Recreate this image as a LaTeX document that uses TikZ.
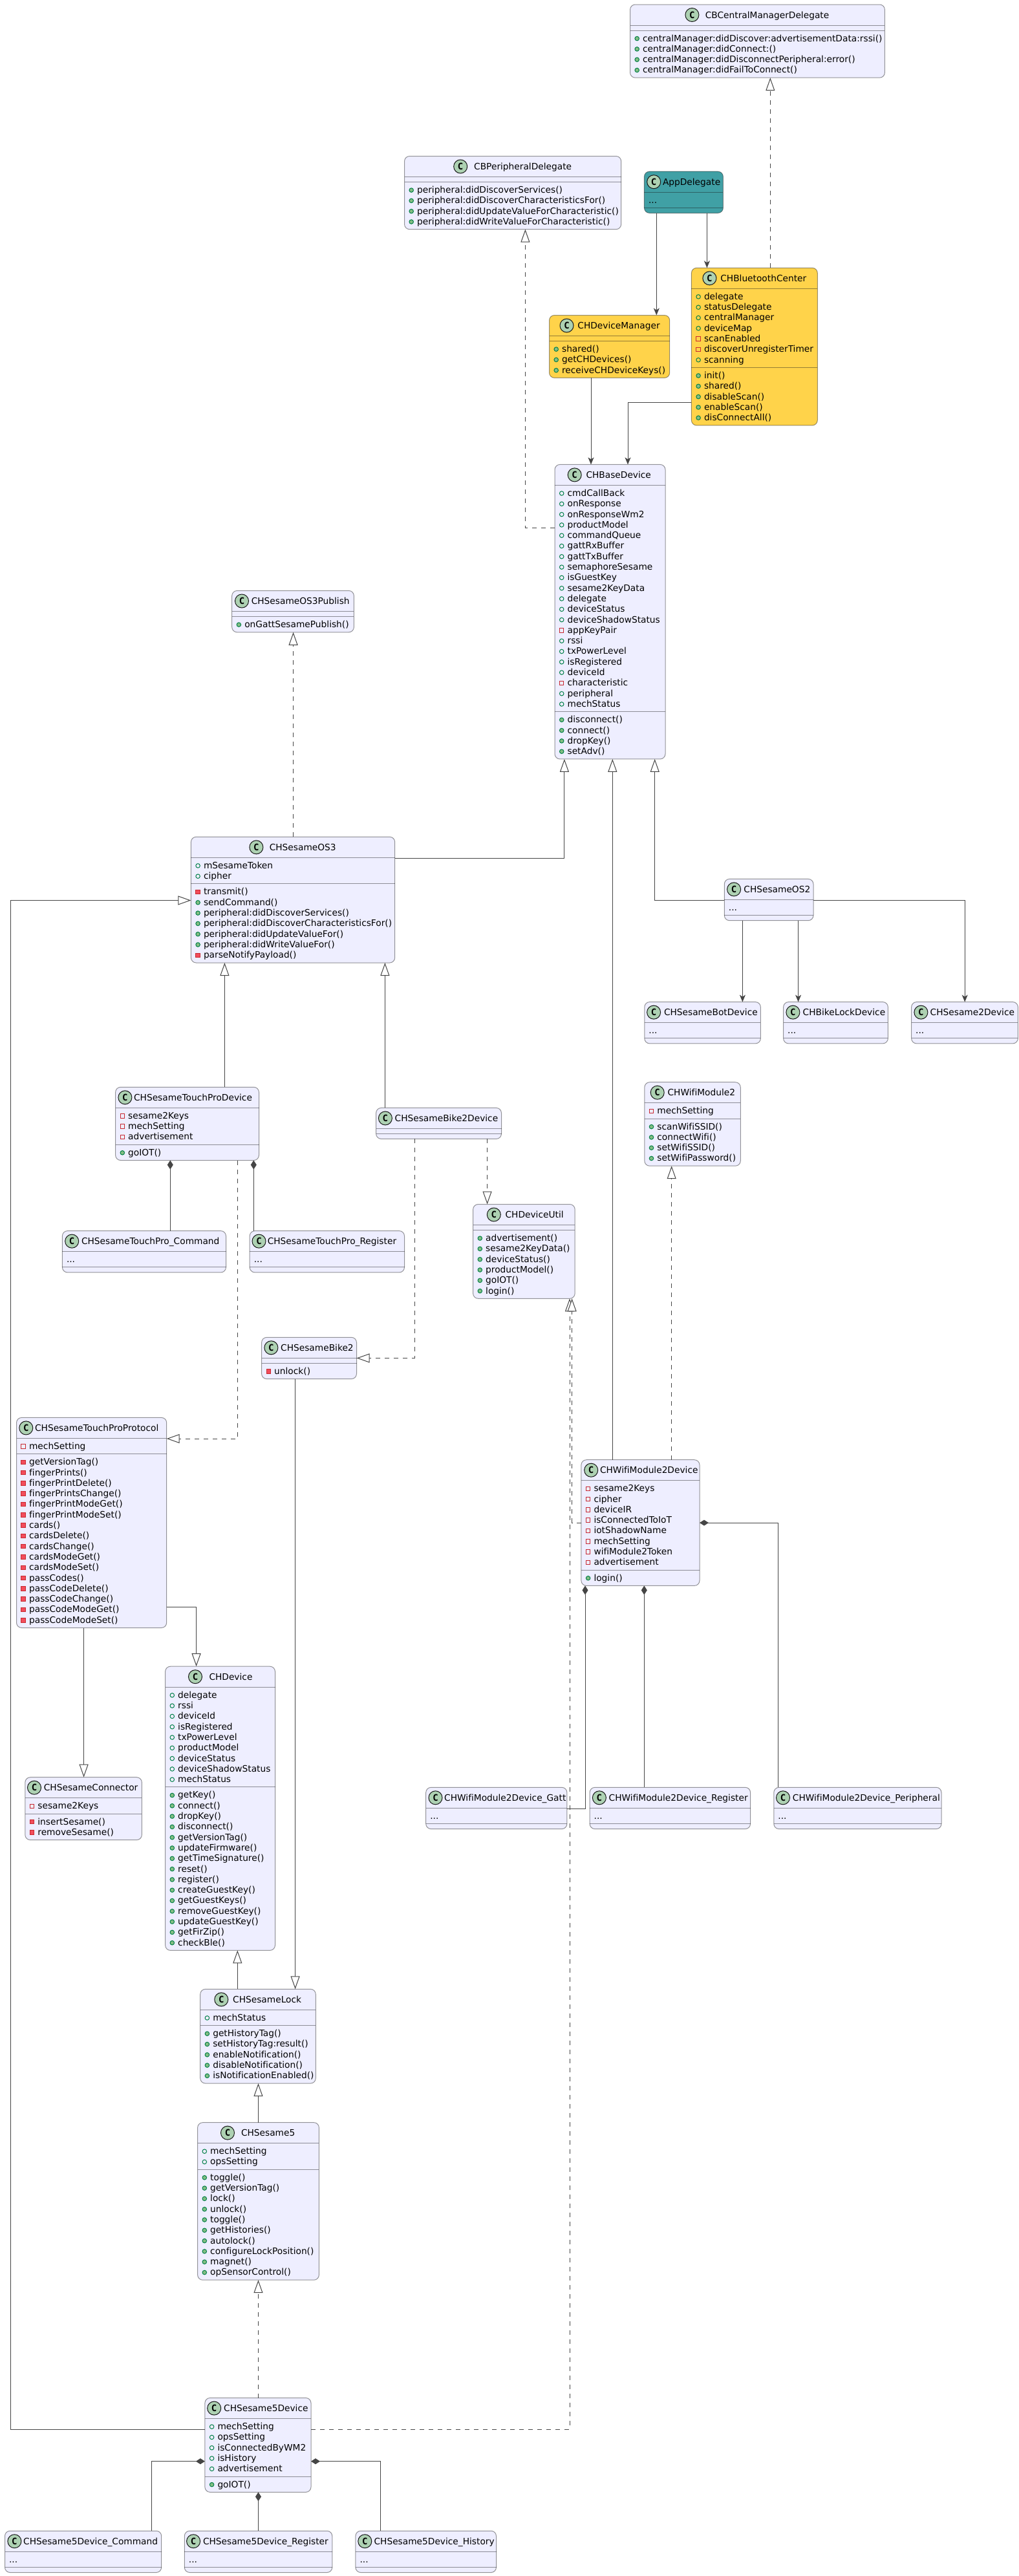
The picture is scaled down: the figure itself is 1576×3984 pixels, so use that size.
\documentclass[tikz,border=0pt]{standalone}
\usepackage{fontspec}
\setmainfont[Ligatures={NoCommon}]{DejaVu Sans}
\newfontfamily\spotfont{DejaVu Sans Mono}
\usetikzlibrary{arrows.meta}

\definecolor{boxfill}{HTML}{EEEEFF}
\definecolor{appfill}{HTML}{40A0A5}
\definecolor{coreFill}{HTML}{FFD34A}
\definecolor{boxline}{HTML}{181818}
\definecolor{arrowline}{HTML}{454545}
\definecolor{spotfill}{HTML}{ADD1B2}
\definecolor{fieldgreen}{HTML}{038048}
\definecolor{methodgreen}{HTML}{84BE84}
\definecolor{privred}{HTML}{C82930}
\definecolor{privfill}{HTML}{F24D5C}

\tikzset{
  x=1pt, y=-1pt,
  boxstroke/.style={draw=boxline, draw opacity=.45, line width=1pt},
  classbody/.style={boxstroke, rounded corners=8pt, inner sep=0pt, outer sep=0pt,
    anchor=north west, minimum width=#1, fill=boxfill},
  spot/.style={circle, draw=boxline, line width=1pt, fill=spotfill, minimum size=21pt,
    inner sep=0pt, font=\spotfont\bfseries\fontsize{14}{14}\selectfont},
  rowtext/.style={anchor=base west, inner sep=0pt, outer sep=0pt, text=black, font=\fontsize{13.75}{16}\selectfont},
  viso/.style={circle, draw=fieldgreen, line width=1pt, minimum size=6.5pt, inner sep=0pt},
  vism/.style={circle, draw=fieldgreen, fill=methodgreen, line width=1pt, minimum size=6.5pt, inner sep=0pt},
  visp/.style={rectangle, draw=privred, line width=1pt, minimum size=6.5pt, inner sep=0pt},
  visq/.style={rectangle, draw=privred, fill=privfill, line width=1pt, minimum size=6.5pt, inner sep=0pt},
  visn/.style={inner sep=0pt, minimum size=0pt},
  extends/.style={draw=arrowline, line width=1pt, -{Triangle[open, length=20pt, width=14pt, fill=white]}},
  implements/.style={extends, dash pattern=on 7pt off 7pt},
  uses/.style={draw=arrowline, line width=1pt, -{Stealth[length=11pt, width=9pt, inset=3pt]}},
  owns/.style={draw=arrowline, line width=1pt, {Diamond[length=14pt, width=9pt]}-},
}

\def\rowdots{...}
\newcount\nfields
\newcount\nmethods
\def\typem{m}
\def\typeq{q}
\def\typen{n}
% [fill] name, left, top, right, icon x, title x, title, rows (type/text)
\newcommand{\classbox}[9][boxfill]{
  \global\nfields=0 \global\nmethods=0
  \foreach \v/\t in {#9} {
    \ifx\v\empty\else
      \ifx\v\typem \global\advance\nmethods by 1
      \else\ifx\v\typeq \global\advance\nmethods by 1
      \else \global\advance\nfields by 1 \fi\fi
    \fi
  }
  \pgfmathsetmacro{\sepb}{#4+32+16.3*\nfields+8}
  \pgfmathsetmacro{\boxh}{32+16.3*\nfields+8+16.3*\nmethods+8}
  \pgfmathsetmacro{\boxw}{#5-#3}
  \node[classbody=\boxw pt, minimum height=\boxh pt, fill=#1] (#2) at (#3,#4) {};
  \draw[boxstroke] (#3,#4+32) -- (#5,#4+32) (#3,\sepb) -- (#5,\sepb);
  \node[spot] (#2-icon) at (#6,#4+16) {C};
  \node[rowtext] (#2-title) at (#7,#4+21) {#8};
  \foreach \v/\t [count=\i] in {#9} {
    \ifx\v\empty\else
      \def\rowx{19.6}\def\rowy{0}
      \ifx\v\typen \def\rowx{6.6}\fi
      \ifx\v\typem \def\rowy{8}\fi
      \ifx\v\typeq \def\rowy{8}\fi
      \pgfmathsetmacro{\ty}{#4+32+17+16.3*(\i-1)+\rowy}
      \node[vis\v] (#2-v\i) at (#3+10.7,\ty-4.4) {};
      \node[rowtext] (#2-r\i) at (#3+\rowx,\ty) {\t};
    \fi
  }
}

\begin{document}
\begin{tikzpicture}
  \useasboundingbox (0,0) rectangle (1576,3984);

  \classbox{cbcentral}{974.5}{7}{1368.4}{1070.4}{1090.8}{CBCentralManagerDelegate}
    {m/centralManager:didDiscover:advertisementData:rssi(), m/centralManager:didConnect:(),
     m/centralManager:didDisconnectPeripheral:error(), m/centralManager:didFailToConnect()}
  \classbox{cbperipheral}{625.5}{241.5}{960.7}{712.2}{733.2}{CBPeripheralDelegate}
    {m/peripheral:didDiscoverServices(), m/peripheral:didDiscoverCharacteristicsFor(),
     m/peripheral:didUpdateValueForCharacteristic(), m/peripheral:didWriteValueForCharacteristic()}
  \classbox[appfill]{app}{996.4}{265.2}{1118.4}{1011.2}{1025}{AppDelegate}{n/\rowdots}
  \classbox[coreFill]{center}{1069.4}{414.3}{1264.3}{1097.4}{1114.3}{CHBluetoothCenter}
    {o/delegate, o/statusDelegate, o/centralManager, o/deviceMap, p/scanEnabled, p/discoverUnregisterTimer, o/scanning,
     m/init(), m/shared(), m/disableScan(), m/enableScan(), m/disConnectAll()}
  \classbox[coreFill]{manager}{849.5}{487.5}{1035.7}{876.5}{893.4}{CHDeviceManager}
    {m/shared(), m/getCHDevices(), m/receiveCHDeviceKeys()}
  \classbox{base}{858}{718.4}{1029}{888.7}{906.5}{CHBaseDevice}
    {o/cmdCallBack, o/onResponse, o/onResponseWm2, o/productModel, o/commandQueue, o/gattRxBuffer, o/gattTxBuffer,
     o/semaphoreSesame, o/isGuestKey, o/sesame2KeyData, o/delegate, o/deviceStatus, o/deviceShadowStatus, p/appKeyPair,
     o/rssi, o/txPowerLevel, o/isRegistered, o/deviceId, p/characteristic, o/peripheral, o/mechStatus,
     m/disconnect(), m/connect(), m/dropKey(), m/setAdv()}

  \classbox{publish}{358.7}{913.5}{547.4}{374}{388.8}{CHSesameOS3Publish}{m/onGattSesamePublish()}
  \classbox{osthree}{295.4}{1294.3}{610.7}{396.4}{416.8}{CHSesameOS3}
    {o/mSesameToken, o/cipher, q/transmit(), m/sendCommand(), m/peripheral:didDiscoverServices(),
     m/peripheral:didDiscoverCharacteristicsFor(), m/peripheral:didUpdateValueFor(), m/peripheral:didWriteValueFor(),
     q/parseNotifyPayload()}
  \classbox{ostwo}{1120.3}{1359.4}{1258}{1135.1}{1150.4}{CHSesameOS2}{n/\rowdots}
  \classbox{bot}{996.8}{1549.6}{1176.4}{1011.1}{1027}{CHSesameBotDevice}{n/\rowdots}
  \classbox{bikelock}{1211.6}{1549.6}{1373.4}{1226.4}{1241.7}{CHBikeLockDevice}{n/\rowdots}
  \classbox{sesametwo}{1409.6}{1549.6}{1574.4}{1424.4}{1438.7}{CHSesame2Device}{n/\rowdots}
  \classbox{wifi}{996.8}{1673.7}{1145.3}{1016.7}{1032.6}{CHWifiModule2}
    {p/mechSetting, m/scanWifiSSID(), m/connectWifi(), m/setWifiSSID(), m/setWifiPassword()}
  \classbox{util}{731.6}{1862.5}{889.2}{763.8}{781.6}{CHDeviceUtil}
    {m/advertisement(), m/sesame2KeyData(), m/deviceStatus(), m/productModel(), m/goIOT(), m/login()}

  \classbox{touch}{178.6}{1681.3}{400.5}{193.4}{207.1}{CHSesameTouchProDevice}
    {p/sesame2Keys, p/mechSetting, p/advertisement, m/goIOT()}
  \classbox{biketwodev}{581.6}{1713.4}{775.5}{595.9}{610.7}{CHSesameBike2Device}{}
  \classbox{touchcmd}{96.4}{1903.6}{349.5}{111.2}{126}{CHSesameTouchPro\_Command}{n/\rowdots}
  \classbox{touchreg}{386.2}{1903.6}{625.5}{400.5}{413.8}{CHSesameTouchPro\_Register}{n/\rowdots}
  \classbox{biketwo}{404.6}{2068.3}{551.5}{419.4}{434.2}{CHSesameBike2}{q/unlock()}
  \classbox{protocol}{25.5}{2192.4}{257.7}{40.3}{54.1}{CHSesameTouchProProtocol}
    {p/mechSetting, q/getVersionTag(), q/fingerPrints(), q/fingerPrintDelete(), q/fingerPrintsChange(),
     q/fingerPrintModeGet(), q/fingerPrintModeSet(), q/cards(), q/cardsDelete(), q/cardsChange(), q/cardsModeGet(),
     q/cardsModeSet(), q/passCodes(), q/passCodeDelete(), q/passCodeChange(), q/passCodeModeGet(), q/passCodeModeSet()}
  \classbox{connector}{38.8}{2748.7}{219.4}{53}{67.9}{CHSesameConnector}
    {p/sesame2Keys, q/insertSesame(), q/removeSesame()}
  \classbox{device}{255.6}{2577.2}{425.5}{302}{323.5}{CHDevice}
    {o/delegate, o/rssi, o/deviceId, o/isRegistered, o/txPowerLevel, o/productModel, o/deviceStatus, o/deviceShadowStatus,
     o/mechStatus, m/getKey(), m/connect(), m/dropKey(), m/disconnect(), m/getVersionTag(), m/updateFirmware(),
     m/getTimeSignature(), m/reset(), m/register(), m/createGuestKey(), m/getGuestKeys(), m/removeGuestKey(),
     m/updateGuestKey(), m/getFirZip(), m/checkBle()}

  \classbox{wifidev}{898.9}{2257.7}{1082}{914.2}{928}{CHWifiModule2Device}
    {p/sesame2Keys, p/cipher, p/deviceIR, p/isConnectedToIoT, p/iotShadowName, p/mechSetting, p/wifiModule2Token,
     p/advertisement, m/login()}
  \classbox{wifigatt}{658.7}{2764.3}{876.9}{673.5}{687.2}{CHWifiModule2Device\_Gatt}{n/\rowdots}
  \classbox{wifireg}{912.1}{2764.3}{1160.6}{926.9}{941.7}{CHWifiModule2Device\_Register}{n/\rowdots}
  \classbox{wifiper}{1196.8}{2764.3}{1456}{1211}{1225.9}{CHWifiModule2Device\_Peripheral}{n/\rowdots}

  \classbox{lock}{309.7}{3076.3}{488.3}{342.3}{360.2}{CHSesameLock}
    {o/mechStatus, m/getHistoryTag(), m/setHistoryTag:result(), m/enableNotification(), m/disableNotification(),
     m/isNotificationEnabled()}
  \classbox{five}{305.6}{3282.6}{493.4}{352}{373}{CHSesame5}
    {o/mechSetting, o/opsSetting, m/toggle(), m/getVersionTag(), m/lock(), m/unlock(), m/toggle(), m/getHistories(),
     m/autolock(), m/configureLockPosition(), m/magnet(), m/opSensorControl()}
  \classbox{fivedev}{316.9}{3708.5}{481}{331.2}{346.2}{CHSesame5Device}
    {o/mechSetting, o/opsSetting, o/isConnectedByWM2, o/isHistory, o/advertisement, m/goIOT()}
  \classbox{fivecmd}{7.5}{3914.2}{249.7}{22.4}{36.2}{CHSesame5Device\_Command}{n/\rowdots}
  \classbox{fivereg}{285.3}{3914.2}{513.8}{299.1}{314}{CHSesame5Device\_Register}{n/\rowdots}
  \classbox{fivehis}{549.9}{3914.2}{767.5}{564.3}{578.6}{CHSesame5Device\_History}{n/\rowdots}

  % top part
  \draw[implements] (center.north -| 1191.3,0) -- (cbcentral.south -| 1191.3,0);
  \draw[implements] (base.west |- 0,816.2) -| (cbperipheral.south -| 812.4,0);
  \draw[uses] (app.south -| 1015.3,0) -- (manager.north -| 1015.3,0);
  \draw[uses] (app.south -| 1093.4,0) -- (center.north -| 1093.4,0);
  \draw[uses] (center.west |- 0,622.3) -| (base.north -| 971,0);
  \draw[uses] (manager.south -| 914,0) -- (base.north -| 914,0);

  % children of the base device
  \draw[implements] (osthree.north -| 453.6,0) -- (publish.south -| 453.6,0);
  \draw[extends] (osthree.east |- 0,1327.3) -| (base.south -| 872.9,0);
  \draw[extends] (wifidev.north -| 947.3,0) -- (base.south -| 947.3,0);
  \draw[extends] (ostwo.west |- 0,1392.4) -| (base.south -| 1012.7,0);
  \draw[uses] (ostwo.south -| 1148.4,0) -- (bot.north -| 1148.4,0);
  \draw[uses] (ostwo.south -| 1234.6,0) -- (bikelock.north -| 1234.6,0);
  \draw[uses] (ostwo.east |- 0,1392.4) -| (sesametwo.north -| 1492.2,0);
  \draw[implements] (wifidev.north -| 1038.7,0) -- (wifi.south -| 1038.7,0);

  % sesame os3 family
  \draw[extends] (touch.north -| 347.4,0) -- (osthree.south -| 347.4,0);
  \draw[extends] (biketwodev.north -| 595.4,0) -- (osthree.south -| 595.4,0);
  \draw[implements] (biketwodev.south -| 753.6,0) -- (util.north -| 753.6,0);
  \draw[implements] (biketwodev.south -| 641.3,0) |- (biketwo.east |- 0,2100.4);
  \draw[implements] (touch.south -| 367.3,0) |- (protocol.east |- 0,2225);
  \draw[owns] (touch.south -| 263.3,0) -- (touchcmd.north -| 263.3,0);
  \draw[owns] (touch.south -| 392.3,0) -- (touchreg.north -| 392.3,0);
  \draw[extends] (biketwo.south -| 456.6,0) -- (lock.north -| 456.6,0);
  \draw[extends] (protocol.east |- 0,2485.3) -| (device.north -| 303.6,0);
  \draw[extends] (protocol.south -| 129.6,0) -- (connector.north -| 129.6,0);
  \draw[extends] (lock.north -| 367.3,0) -- (device.south -| 367.3,0);
  \draw[extends] (five.north -| 399.5,0) -- (lock.south -| 399.5,0);

  % sesame 5 device
  \draw[implements] (fivedev.north -| 399.5,0) -- (five.south -| 399.5,0);
  \draw[extends] (fivedev.west |- 0,3757.2) -| (16.4,1392.5) -- (osthree.west |- 0,1392.5);
  \draw[implements] (fivedev.east |- 0,3757.2) -| (util.south -| 881,0);
  \draw[owns] (fivedev.west |- 0,3806.6) -| (fivecmd.north -| 234.2,0);
  \draw[owns] (fivedev.south -| 399.5,0) -- (fivereg.north -| 399.5,0);
  \draw[owns] (fivedev.east |- 0,3806.6) -| (fivehis.north -| 588.4,0);

  % wifi module 2 device
  \draw[implements] (wifidev.west |- 0,2355.1) -| (util.south -| 884.6,0);
  \draw[owns] (wifidev.east |- 0,2355.1) -| (wifiper.north -| 1203.5,0);
  \draw[owns] (wifidev.south -| 996.3,0) -- (wifireg.north -| 996.3,0);
  \draw[owns] (wifidev.south -| 905,0) |- (wifigatt.east |- 0,2797.4);
\end{tikzpicture}
\end{document}
